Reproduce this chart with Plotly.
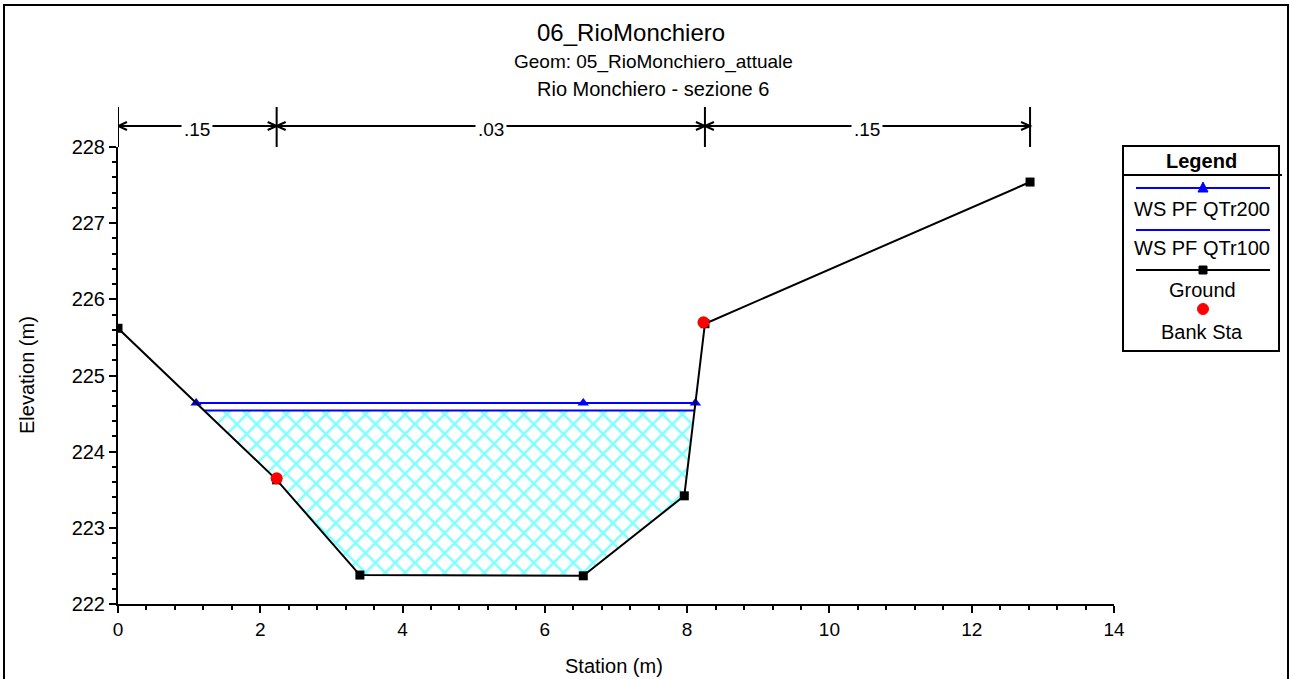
import numpy as np
import plotly.graph_objects as go

# ---------------- data ----------------
ground_sta = [0.0, 2.23, 3.40, 6.54, 7.96, 8.25, 12.82]
ground_elev = [225.62, 223.63, 222.38, 222.37, 223.42, 225.68, 227.54]
bank_sta = [2.23, 8.23]
bank_elev = [223.65, 225.70]
ws_names = ["WS PF QTr200", "WS PF QTr100"]
ws_elev = [224.64, 224.54]
ws200_mid_marker_sta = [6.54]
n_values = [".15", ".03", ".15"]
n_breaks = [0.0, 2.23, 8.25, 12.82]
title_lines = ["06_RioMonchiero", "Geom: 05_RioMonchiero_attuale", "Rio Monchiero - sezione 6"]
legend_labels = ["WS PF QTr200", "WS PF QTr100", "Ground", "Bank Sta"]

FONT = "Liberation Sans, Arial, sans-serif"

# plot-area pixel geometry
L, R, T, B = 118, 1114, 147, 604
W, H = 1290, 679


def px(x):
    return (x - L) / (R - L)


def py(y):
    return (B - y) / (B - T)


def crossings(elev):
    xs, ys = ground_sta, ground_elev
    left = right = None
    for i in range(len(xs) - 1):
        y0, y1 = ys[i], ys[i + 1]
        if left is None and y0 >= elev > y1:
            left = xs[i] + (y0 - elev) / (y0 - y1) * (xs[i + 1] - xs[i])
        if y0 < elev <= y1:
            right = xs[i] + (elev - y0) / (y1 - y0) * (xs[i + 1] - xs[i])
    return left, right


def txt(x, y, text, size, xref="paper", angle=0, bg=None):
    d = dict(x=x, y=y, xref=xref, yref="paper", text=text, showarrow=False,
             xanchor="center", yanchor="middle", textangle=angle,
             font=dict(family=FONT, size=size, color="black"))
    if bg:
        d.update(bgcolor=bg, borderpad=2)
    return d


fig = go.Figure()

# water area (QTr100) with crosshatch
xl, xr = crossings(ws_elev[1])
poly_x = [xl] + [s for s in ground_sta if xl < s < xr] + [xr, xl]
poly_y = [ws_elev[1]] + [e for s, e in zip(ground_sta, ground_elev) if xl < s < xr] + [ws_elev[1], ws_elev[1]]
fig.add_trace(go.Scatter(
    x=poly_x, y=poly_y, mode="lines", fill="toself",
    fillcolor="rgba(255,255,255,0)",
    fillpattern=dict(shape="x", fgcolor="#00FFFF", bgcolor="white", size=14, solidity=0.32),
    line=dict(width=0), hoverinfo="skip", showlegend=False))

# WS QTr100
fig.add_trace(go.Scatter(x=[xl, xr], y=[ws_elev[1]] * 2, mode="lines",
                         line=dict(color="#0000FF", width=2), name=ws_names[1], showlegend=False))

# WS QTr200
xl2, xr2 = crossings(ws_elev[0])
fig.add_trace(go.Scatter(x=[xl2, xr2], y=[ws_elev[0]] * 2, mode="lines",
                         line=dict(color="#0000FF", width=2), name=ws_names[0], showlegend=False))
mk_x = [xl2] + ws200_mid_marker_sta + [xr2]
fig.add_trace(go.Scatter(x=mk_x, y=[ws_elev[0]] * len(mk_x), mode="markers",
                         marker=dict(symbol="triangle-up", size=10, color="#0000FF"),
                         showlegend=False))

# Ground
fig.add_trace(go.Scatter(x=ground_sta, y=ground_elev, mode="lines+markers",
                         line=dict(color="black", width=2),
                         marker=dict(symbol="square", size=9, color="black"),
                         name="Ground", showlegend=False))

# Bank stations
fig.add_trace(go.Scatter(x=bank_sta, y=bank_elev, mode="markers",
                         marker=dict(symbol="circle", size=12, color="#FF0000"),
                         name="Bank Sta", showlegend=False))

shapes = []
annotations = []

# Manning's n dimension lines above the plot
yl = py(126)
dxh = 9 / ((R - L) / 14.0)
dyh = 4 / (B - T)
for b in n_breaks:
    shapes.append(dict(type="line", xref="x", yref="paper", x0=b, x1=b,
                       y0=py(147), y1=py(107), line=dict(color="black", width=2)))
for i, lab in enumerate(n_values):
    a, b = n_breaks[i], n_breaks[i + 1]
    shapes.append(dict(type="line", xref="x", yref="paper", x0=a, x1=b, y0=yl, y1=yl,
                       line=dict(color="black", width=2)))
    shapes.append(dict(type="path", xref="x", yref="paper",
                       path=f"M {a + dxh},{yl + dyh} L {a},{yl} L {a + dxh},{yl - dyh}",
                       line=dict(color="black", width=2)))
    shapes.append(dict(type="path", xref="x", yref="paper",
                       path=f"M {b - dxh},{yl + dyh} L {b},{yl} L {b - dxh},{yl - dyh}",
                       line=dict(color="black", width=2)))
    annotations.append(txt((a + b) / 2, py(130), lab, 19, xref="x", bg="white"))

# outer frame
shapes.append(dict(type="rect", xref="paper", yref="paper", x0=px(4), x1=px(1288),
                   y0=py(700), y1=py(5), line=dict(color="black", width=2)))

# titles
annotations.append(txt(px(631), py(32), title_lines[0], 24))
annotations.append(txt(px(653), py(62), title_lines[1], 19))
annotations.append(txt(px(653), py(89), title_lines[2], 20))

# axis titles
annotations.append(txt(px(614), py(666), "Station (m)", 20))
annotations.append(txt(px(27), py(375), "Elevation (m)", 20, angle=-90))

# legend box
lx0, lx1 = 1123, 1279
shapes.append(dict(type="rect", xref="paper", yref="paper", x0=px(lx0), x1=px(lx1),
                   y0=py(351), y1=py(146), line=dict(color="black", width=2), fillcolor="white"))
shapes.append(dict(type="line", xref="paper", yref="paper", x0=px(lx0), x1=px(1282),
                   y0=py(175), y1=py(175), line=dict(color="black", width=2)))
annotations.append(txt(px(1201), py(161), "<b>Legend</b>", 20))
cx = 1203
line_rows = [(188, "#0000FF"), (230, "#0000FF"), (270, "black")]
for yy, col in line_rows:
    shapes.append(dict(type="line", xref="paper", yref="paper", x0=px(1136), x1=px(1270),
                       y0=py(yy), y1=py(yy), line=dict(color=col, width=2)))
# triangle
shapes.append(dict(type="path", xref="paper", yref="paper",
                   path=f"M {px(cx - 5)},{py(192)} L {px(cx + 5)},{py(192)} L {px(cx)},{py(182)} Z",
                   fillcolor="#0000FF", line=dict(color="#0000FF", width=1)))
# square
shapes.append(dict(type="rect", xref="paper", yref="paper", x0=px(cx - 4), x1=px(cx + 4),
                   y0=py(274), y1=py(266), fillcolor="black", line=dict(color="black", width=1)))
# circle
shapes.append(dict(type="circle", xref="paper", yref="paper", x0=px(cx - 5.5), x1=px(cx + 5.5),
                   y0=py(314.5), y1=py(303.5), fillcolor="#FF0000", line=dict(color="#FF0000", width=1)))
for lab, yy in zip(legend_labels, [209, 248, 290, 332]):
    annotations.append(txt(px(1202), py(yy), lab, 20))

fig.update_layout(
    width=W, height=H,
    margin=dict(l=L, r=W - R, t=T, b=H - B, pad=0),
    paper_bgcolor="white", plot_bgcolor="white",
    font=dict(family=FONT, color="black"),
    shapes=shapes, annotations=annotations,
    showlegend=False,
)
fig.update_xaxes(range=[0, 14], dtick=2, tick0=0, showgrid=False, zeroline=False,
                 showline=True, linecolor="black", linewidth=2,
                 ticks="outside", ticklen=7, tickwidth=2, tickcolor="black",
                 tickfont=dict(family=FONT, size=19, color="black"),
                 minor=dict(dtick=0.4, tick0=0, ticks="outside", ticklen=4, tickwidth=2,
                            tickcolor="black", showgrid=False))
fig.update_yaxes(range=[222, 228], dtick=1, tick0=222, showgrid=False, zeroline=False,
                 showline=True, linecolor="black", linewidth=2,
                 ticks="outside", ticklen=7, tickwidth=2, tickcolor="black",
                 tickfont=dict(family=FONT, size=20, color="black"),
                 minor=dict(dtick=0.2, tick0=222, ticks="outside", ticklen=4, tickwidth=2,
                            tickcolor="black", showgrid=False))

fig.write_html("out.html", config={"displayModeBar": False},
               post_script="document.body.style.margin='0';document.body.style.overflow='hidden';")
